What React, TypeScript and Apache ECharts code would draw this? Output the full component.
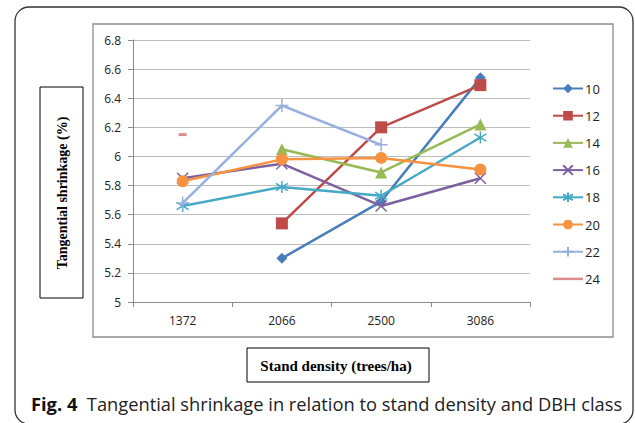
import React, { useEffect, useRef } from "react";
import * as echarts from "echarts";

const categories = ["1372", "2066", "2500", "3086"];
const seriesNames = ["10", "12", "14", "16", "18", "20", "22", "24"];
const s10 = [null, 5.3, 5.69, 6.54];
const s12 = [null, 5.54, 6.2, 6.49];
const s14 = [null, 6.05, 5.89, 6.22];
const s16 = [5.85, 5.95, 5.66, 5.85];
const s18 = [5.66, 5.79, 5.73, 6.13];
const s20 = [5.83, 5.98, 5.99, 5.91];
const s22 = [5.68, 6.35, 6.08, null];
const s24 = [6.15, null, null, null];
const seriesValues = [s10, s12, s14, s16, s18, s20, s22, s24];
const colors = ["#4A7EBB", "#BE4B48", "#98B954", "#7D60A0", "#46AAC5", "#F69240", "#98B0DD", "#DA8B8B"];

const X_PATH = "path://M0,0L10,10M10,0L0,10";
const STAR_PATH = "path://M5,0L5,10M0,2L10,8M10,2L0,8";
const PLUS_PATH = "path://M5,0L5,10M0,5L10,5";
const LINE_ICON = "path://M0,0H30V2.5H0Z";

const symbols: any[] = ["diamond", "rect", "triangle", X_PATH, STAR_PATH, "circle", PLUS_PATH, "rect"];
const symbolSizes: any[] = [11, 12, 12, 11, 12, 12, 13, [8, 3]];
const strokeSymbol = [false, false, false, true, true, false, true, false];

export default function App() {
  const ref = useRef<HTMLDivElement>(null);
  useEffect(() => {
    const chart = echarts.init(ref.current!, null, { renderer: "svg" });
    const series = seriesNames.map((name, i) => ({
      name,
      type: "line",
      data: seriesValues[i],
      symbol: symbols[i],
      symbolSize: symbolSizes[i],
      showSymbol: true,
      connectNulls: false,
      lineStyle: { color: colors[i], width: 2.5 },
      itemStyle: strokeSymbol[i]
        ? { color: "rgba(0,0,0,0)", borderColor: colors[i], borderWidth: 1.5 }
        : { color: colors[i] },
      emphasis: { disabled: true },
    }));
    chart.setOption({
      animation: false,
      backgroundColor: "#fff",
      grid: { left: 133, top: 40, width: 397, height: 262 },
      legend: {
        orient: "vertical",
        left: 552,
        top: 82,
        padding: 0,
        itemWidth: 30,
        itemHeight: 12,
        itemGap: 14.2,
        data: seriesNames.map((n) => (n === "24" ? { name: n, icon: LINE_ICON } : n)),
        textStyle: { fontFamily: "Open Sans", fontSize: 13, color: "#222", padding: [0, 0, 0, -3] },
      },
      xAxis: {
        type: "category",
        data: categories,
        boundaryGap: true,
        axisLine: { lineStyle: { color: "#8C8C8C", width: 1 } },
        axisTick: { show: true, length: 5, interval: 0, lineStyle: { color: "#8C8C8C" } },
        axisLabel: { margin: 12, fontFamily: "Open Sans", fontSize: 12, color: "#222" },
        splitLine: { show: false },
      },
      yAxis: {
        type: "value",
        min: 5,
        max: 6.8,
        interval: 0.2,
        axisLine: { show: true, lineStyle: { color: "#8C8C8C", width: 1 } },
        axisTick: { show: true, length: 5, lineStyle: { color: "#8C8C8C" } },
        axisLabel: { margin: 12, fontFamily: "Open Sans", fontSize: 12, color: "#222" },
        splitLine: { show: true, lineStyle: { color: "#BDBDBD", width: 1 } },
      },
      series,
      graphic: [
        {
          type: "rect",
          shape: { x: 15, y: 7, width: 618, height: 417, r: 14 },
          style: { fill: "none", stroke: "#333", lineWidth: 1.3 },
          silent: true,
        },
        {
          type: "rect",
          shape: { x: 93, y: 24, width: 520, height: 313 },
          style: { fill: "none", stroke: "#8C8C8C", lineWidth: 1.3 },
          silent: true,
        },
        {
          type: "rect",
          shape: { x: 40, y: 87, width: 43, height: 211 },
          style: { fill: "none", stroke: "#000", lineWidth: 1 },
          silent: true,
        },
        {
          type: "text",
          x: 62,
          y: 193,
          rotation: Math.PI / 2,
          style: {
            text: "Tangential shrinkage (%)",
            fontFamily: "Liberation Serif",
            fontWeight: "bold",
            fontSize: 14,
            fill: "#000",
            align: "center",
            verticalAlign: "middle",
          },
          silent: true,
        },
        {
          type: "rect",
          shape: { x: 247, y: 348, width: 182, height: 34 },
          style: { fill: "none", stroke: "#000", lineWidth: 1 },
          silent: true,
        },
        {
          type: "text",
          x: 336,
          y: 366,
          style: {
            text: "Stand density (trees/ha)",
            fontFamily: "Liberation Serif",
            fontWeight: "bold",
            fontSize: 15,
            fill: "#000",
            align: "center",
            verticalAlign: "middle",
          },
          silent: true,
        },
        {
          type: "text",
          x: 31,
          y: 403,
          style: {
            text: "{b|Fig. 4}{n|  Tangential shrinkage in relation to stand density and DBH class}",
            verticalAlign: "middle",
            rich: {
              b: { fontFamily: "Open Sans", fontWeight: "bold", fontSize: 18.3, fill: "#111" },
              n: { fontFamily: "Open Sans", fontSize: 18.3, fill: "#222" },
            },
          },
          silent: true,
        },
      ],
    });
    return () => chart.dispose();
  }, []);
  return (
    <div
      ref={ref}
      style={{ position: "fixed", left: 0, top: 0, width: 635, height: 423 }}
    />
  );
}
